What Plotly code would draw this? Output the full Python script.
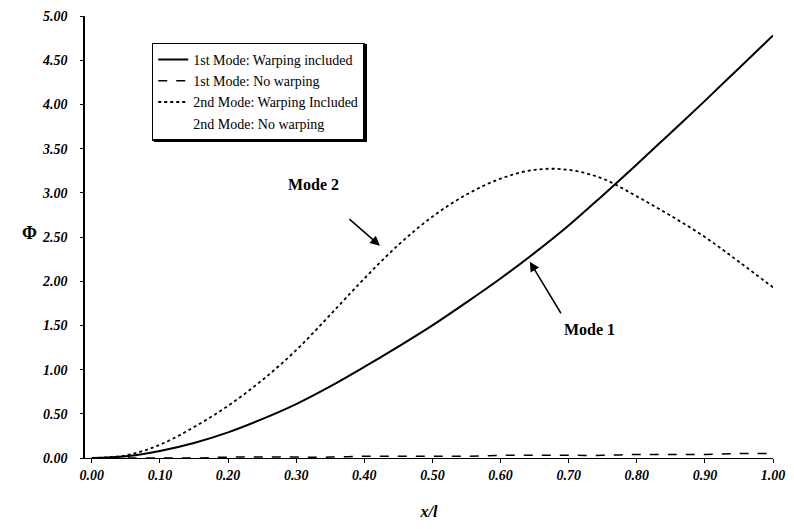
import plotly.graph_objects as go

x_vals = [0.00, 0.05, 0.10, 0.15, 0.20, 0.25, 0.30, 0.35, 0.40, 0.45, 0.50,
          0.55, 0.60, 0.65, 0.70, 0.75, 0.80, 0.85, 0.90, 0.95, 1.00]
mode1_warp = [0.00, 0.02, 0.08, 0.17, 0.29, 0.44, 0.61, 0.81, 1.03, 1.26, 1.50,
              1.76, 2.03, 2.32, 2.63, 2.97, 3.32, 3.68, 4.04, 4.41, 4.78]
mode1_nowarp = [0.00, 0.00, 0.00, 0.00, 0.01, 0.01, 0.01, 0.01, 0.02, 0.02, 0.02,
                0.02, 0.03, 0.03, 0.03, 0.03, 0.04, 0.04, 0.04, 0.05, 0.05]
mode2_warp = [0.00, 0.03, 0.15, 0.35, 0.59, 0.88, 1.22, 1.62, 2.03, 2.41, 2.73,
              2.98, 3.16, 3.26, 3.26, 3.16, 2.96, 2.74, 2.50, 2.22, 1.93]
mode2_nowarp = [0.00, 0.00, 0.00, 0.01, 0.01, 0.01, 0.01, 0.02, 0.02, 0.02, 0.02,
                0.03, 0.03, 0.03, 0.03, 0.04, 0.04, 0.04, 0.05, 0.05, 0.06]

names = ["1st Mode: Warping included", "1st Mode: No warping",
         "2nd Mode: Warping Included", "2nd Mode: No warping"]
y_ticks = [0, 0.5, 1, 1.5, 2, 2.5, 3, 3.5, 4, 4.5, 5]
x_ticks = [0, 0.1, 0.2, 0.3, 0.4, 0.5, 0.6, 0.7, 0.8, 0.9, 1.0]

serif = "Liberation Serif"
fig = go.Figure()
fig.add_trace(go.Scatter(x=x_vals, y=mode1_warp, mode="lines", name=names[0],
                         line=dict(color="black", width=2, shape="spline")))
fig.add_trace(go.Scatter(x=x_vals, y=mode1_nowarp, mode="lines", name=names[1],
                         line=dict(color="black", width=1.5, dash="dash", shape="spline")))
fig.add_trace(go.Scatter(x=x_vals, y=mode2_warp, mode="lines", name=names[2],
                         line=dict(color="black", width=1.8, dash="dot", shape="spline")))
fig.add_trace(go.Scatter(x=x_vals, y=mode2_nowarp, mode="lines", name=names[3],
                         line=dict(color="rgba(0,0,0,0)", width=1)))

tickfont = dict(family=serif, size=14, color="black", weight="bold", style="italic")
fig.update_layout(
    width=794, height=529,
    margin=dict(l=85, r=21, t=16, b=71),
    paper_bgcolor="white", plot_bgcolor="white",
    showlegend=True,
    legend=dict(x=0.097, y=0.94, xanchor="left", yanchor="top",
                bgcolor="white", bordercolor="black", borderwidth=1.5,
                font=dict(family=serif, size=14, color="black"),
                tracegroupgap=0, itemwidth=30),
    xaxis=dict(range=[-0.01, 1.0], tickvals=x_ticks,
               ticktext=[f"{v:.2f}" for v in x_ticks], automargin=False,
               ticklabeloverflow="allow",
               showgrid=False, zeroline=False, showline=True, linecolor="black",
               linewidth=1, ticks="outside", ticklen=4, tickcolor="black",
               tickfont=tickfont,
               title=dict(text="x/l", font=dict(family=serif, size=16, color="black",
                                                 weight="bold", style="italic"),
                          standoff=24)),
    yaxis=dict(range=[0, 5], tickvals=y_ticks, automargin=False,
               ticktext=[f"{v:.2f}" for v in y_ticks],
               showgrid=False, zeroline=False, showline=True, linecolor="black",
               linewidth=1.5, ticks="outside", ticklen=3, tickcolor="black",
               tickfont=tickfont, ticklabelstandoff=10),
)

# legend drop shadow
fig.add_shape(type="rect", xref="paper", yref="paper",
              x0=0.1003, x1=0.4099, y0=0.7149, y1=0.9367,
              fillcolor="black", line=dict(width=0), layer="above")

fig.add_annotation(xref="paper", yref="y", x=-0.095, y=2.55, text="<b>Φ</b>",
                   showarrow=False, font=dict(family=serif, size=18, color="black"))
fig.add_annotation(x=0.423, y=2.40, ax=-32, ay=-28,
                   text="", showarrow=True, arrowhead=2, arrowsize=1.3, arrowwidth=1.5,
                   arrowcolor="black")
fig.add_annotation(x=0.325, y=3.09, text="<b>Mode 2</b>", showarrow=False,
                   font=dict(family=serif, size=16, color="black"))
fig.add_annotation(x=0.643, y=2.22, ax=32, ay=53,
                   text="", showarrow=True, arrowhead=2, arrowsize=1.3, arrowwidth=1.5,
                   arrowcolor="black")
fig.add_annotation(x=0.731, y=1.45, text="<b>Mode 1</b>", showarrow=False,
                   font=dict(family=serif, size=16, color="black"))

fig.write_html("out.html", config={"displayModeBar": False},
               post_script="document.body.style.margin='0';"
                           "document.body.style.overflow='hidden';")
